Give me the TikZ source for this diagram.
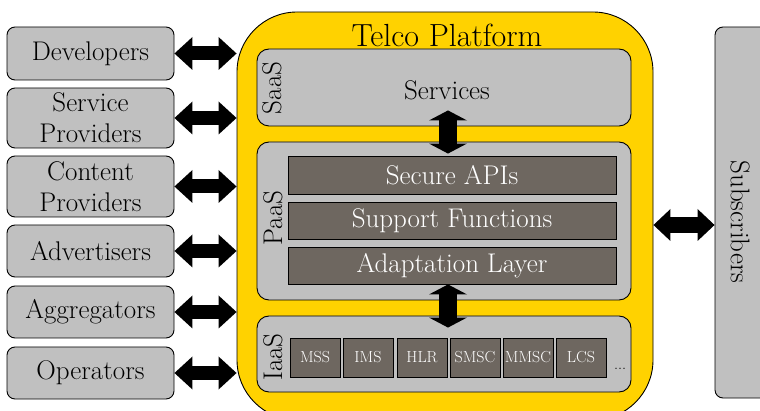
\documentclass[tikz,border=0pt]{standalone}
\usepackage{fontspec}
\usetikzlibrary{arrows.meta}
\definecolor{boxgray}{RGB}{192,192,192}
\definecolor{layerdark}{RGB}{110,103,96}
\definecolor{platgold}{RGB}{255,210,0}
\tikzset{
  outline/.style={draw=black, line width=0.9pt},
  big/.style={font=\fontsize{27}{31}\selectfont},
  party/.style={outline, big, fill=boxgray, rounded corners=8pt, minimum width=167pt,
    inner sep=0pt, align=center},
  platform/.style={outline, fill=platgold, rounded corners=60pt, inner sep=0pt},
  layer/.style={outline, fill=boxgray, rounded corners=12pt, minimum width=374pt, inner sep=0pt},
  func/.style={outline, big, fill=layerdark, text=white, minimum width=328pt, inner sep=0pt},
  elem/.style={outline, fill=layerdark, text=white, minimum width=50pt, minimum height=39pt,
    inner sep=0pt, font=\fontsize{16}{18}\selectfont},
  tag/.style={big, rotate=90, inner sep=0pt},
  hfat/.style={line width=14pt,
    {Triangle[width=33pt,length=18pt,line width=0pt]}-{Triangle[width=33pt,length=18pt,line width=0pt]}},
  sfat/.style={line width=16pt,
    {Triangle[width=32pt,length=17pt,line width=0pt]}-{Triangle[width=32pt,length=17pt,line width=0pt]}},
  vfat/.style={line width=18pt,
    {Triangle[width=38pt,length=10pt,line width=0pt]}-{Triangle[width=38pt,length=10pt,line width=0pt]}},
}
\begin{document}
\begin{tikzpicture}[x=1pt,y=-1pt]
\useasboundingbox (0,0) rectangle (760,411);
\begin{scope}
\clip (0,0) rectangle (760,411);

% parties on the left
\node[party, minimum height=53pt] (dev) at (90.5,53.5) {Developers};
\node[party, minimum height=60pt] (sp)  at (90.5,118) {Service\\Providers};
\node[party, minimum height=61pt] (cp)  at (90.5,186.5) {Content\\Providers};
\node[party, minimum height=52pt] (adv) at (90.5,251) {Advertisers};
\node[party, minimum height=52pt] (agg) at (90.5,312) {Aggregators};
\node[party, minimum height=52pt] (op)  at (90.5,373) {Operators};

% the platform
\node[platform, minimum width=416pt, minimum height=408pt] (plat) at (445,216) {};
\node[font=\fontsize{32}{35}\selectfont, inner sep=0pt] (title) at (447,35) {Telco Platform};

% software layer
\node[layer, minimum height=77pt] (saas) at (444,87.5) {};
\node[tag] (saastag) at (272,88) {SaaS};
\node[big, inner sep=0pt] (srv) at (447,90) {Services};

% platform layer
\node[layer, minimum height=158pt] (paas) at (444,221) {};
\node[tag] (paastag) at (273,218) {PaaS};
\node[func, minimum height=38pt] (api)   at (452,175) {Secure APIs};
\node[func, minimum height=37pt] (supp)  at (452,220.5) {Support Functions};
\node[func, minimum height=37pt] (adapt) at (452,265.5) {Adaptation Layer};

% infrastructure layer
\node[layer, minimum height=76pt] (iaas) at (444,354) {};
\node[tag] (iaastag) at (273,357) {IaaS};
\node[elem] (mss)  at (315,357.5) {MSS};
\node[elem] (ims)  at (368,357.5) {IMS};
\node[elem] (hlr)  at (422,357.5) {HLR};
\node[elem] (smsc) at (475,357.5) {SMSC};
\node[elem] (mmsc) at (528,357.5) {MMSC};
\node[elem] (lcs)  at (581,357.5) {LCS};
\node[font=\fontsize{16}{18}\selectfont, inner sep=0pt] (more) at (620,369) {...};

% subscribers on the right
\node[outline, fill=boxgray, rounded corners=8pt, minimum width=60pt, minimum height=371pt,
  inner sep=0pt] (subs) at (745,212.5) {};
\node[big, rotate=-90, inner sep=0pt] (substxt) at (740,222) {Subscribers};

% connectors
\foreach \p in {dev,sp,cp,adv,agg,op}
  \draw[hfat] (\p.east) -- (\p.east -| plat.west);
\draw[sfat] ([yshift=-9pt]plat.east) -- ([yshift=-12.5pt]subs.west);
\draw[vfat] ([xshift=4pt,yshift=16pt]saas.south) -- ([xshift=4pt,yshift=-12pt]paas.north);
\draw[vfat] ([xshift=-4pt]adapt.south) -- ([xshift=4pt,yshift=-12pt]iaas.north);
\end{scope}
\end{tikzpicture}
\end{document}
